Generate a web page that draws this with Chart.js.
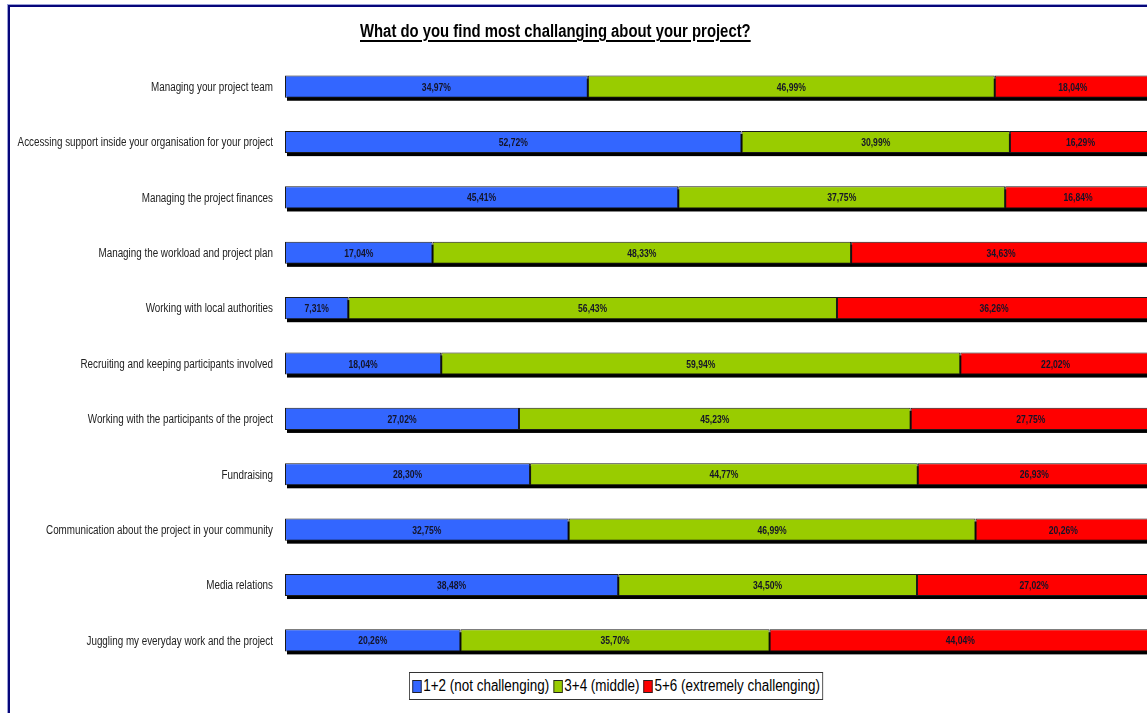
<!DOCTYPE html>
<html>
<head>
<meta charset="utf-8">
<script src="https://cdn.jsdelivr.net/npm/chart.js@4.4.1/dist/chart.umd.min.js"></script>
<style>
  html, body { margin: 0; padding: 0; background: #fff; overflow: hidden; width: 1147px; height: 713px; }
  #frame { position: absolute; left: 8px; top: 5px; width: 1300px; height: 800px; border-left: 2px solid #06067a; border-top: 2px solid #06067a; box-shadow: -1px -1px 0 #9aa0d8; }
  #wrap { position: absolute; left: 0; top: 0; width: 1230px; height: 713px; }
  #title { position: absolute; left: 360px; top: 21px; transform: scaleX(0.826); transform-origin: left top; font-family: "Liberation Sans", Arial, sans-serif; font-weight: bold; font-size: 18px; color: #000; white-space: nowrap; }
  #title span { text-decoration: underline; text-decoration-thickness: 2px; text-underline-offset: 3px; }
  #legend { position: absolute; left: 409px; top: 672px; height: 26px; border: 1px solid #333; background: #fff; display: flex; align-items: center; padding: 0 3px 0 3px; font-family: "Liberation Sans", Arial, sans-serif; font-size: 16px; color: #000; white-space: nowrap; transform: scaleX(0.84); transform-origin: left top; }
  #legend .item { display: inline-flex; align-items: center; margin-right: 5px; }
  #legend .item:last-child { margin-right: 0; }
  #legend .sw { display: inline-block; width: 9px; height: 11px; border: 1px solid #222; margin-right: 2px; }
</style>
</head>
<body>
<div id="frame"></div>
<div id="wrap"><canvas id="c" width="1230" height="713"></canvas></div>
<div id="title"><span>What do you find most challanging about your project?</span></div>
<div id="legend"></div>
<script>
const categories = [
  "Managing your project team",
  "Accessing support inside your organisation for your project",
  "Managing the project finances",
  "Managing the workload and project plan",
  "Working with local authorities",
  "Recruiting and keeping participants involved",
  "Working with the participants of the project",
  "Fundraising",
  "Communication about the project in your community",
  "Media relations",
  "Juggling my everyday work and the project"
];
const seriesNames = ["1+2 (not challenging)", "3+4 (middle)", "5+6 (extremely challenging)"];
const notChallenging = [34.97, 52.72, 45.41, 17.04, 7.31, 18.04, 27.02, 28.30, 32.75, 38.48, 20.26];
const middle = [46.99, 30.99, 37.75, 48.33, 56.43, 59.94, 45.23, 44.77, 46.99, 34.50, 35.70];
const extremelyChallenging = [18.04, 16.29, 16.84, 34.63, 36.26, 22.02, 27.75, 26.93, 20.26, 27.02, 44.04];
const seriesColors = ["#3366FF", "#99CC00", "#FF0000"];

const baseFont = '"Liberation Sans", Arial, sans-serif';
const NARROW = 0.82;

const shadowPlugin = {
  id: 'barShadow',
  beforeDatasetsDraw(chart) {
    const ctx = chart.ctx;
    const first = chart.getDatasetMeta(0).data;
    const last = chart.getDatasetMeta(chart.data.datasets.length - 1).data;
    ctx.save();
    ctx.fillStyle = '#000';
    for (let i = 0; i < first.length; i++) {
      const a = first[i], b = last[i];
      const left = Math.min(a.base, a.x);
      const right = Math.max(b.base, b.x);
      const top = a.y - a.height / 2;
      ctx.fillRect(left + 2, top + 3, right - left, a.height);
    }
    ctx.restore();
  }
};

const labelPlugin = {
  id: 'valueLabels',
  afterDatasetsDraw(chart) {
    const ctx = chart.ctx;
    ctx.save();
    ctx.font = 'bold 11px ' + baseFont;
    ctx.fillStyle = '#141428';
    ctx.textAlign = 'center';
    ctx.textBaseline = 'middle';
    chart.data.datasets.forEach((ds, di) => {
      chart.getDatasetMeta(di).data.forEach((el, i) => {
        const v = ds.data[i];
        const txt = v.toFixed(2).replace('.', ',') + '%';
        ctx.save();
        ctx.translate((el.x + el.base) / 2, el.y + 1);
        ctx.scale(0.78, 1);
        ctx.fillText(txt, 0, 0);
        ctx.restore();
      });
    });
    ctx.restore();
  }
};

const categoryLabelPlugin = {
  id: 'categoryLabels',
  afterDraw(chart) {
    const ctx = chart.ctx;
    const ys = chart.scales.y;
    ctx.save();
    ctx.font = '12px ' + baseFont;
    ctx.fillStyle = '#222';
    ctx.textAlign = 'right';
    ctx.textBaseline = 'middle';
    chart.data.labels.forEach((lab, i) => {
      ctx.save();
      ctx.translate(ys.right - 12, ys.getPixelForTick(i) + 1);
      ctx.scale(NARROW, 1);
      ctx.fillText(lab, 0, 0);
      ctx.restore();
    });
    ctx.restore();
  }
};

const data = {
  labels: categories,
  datasets: [notChallenging, middle, extremelyChallenging].map((vals, k) => ({
    label: seriesNames[k],
    data: vals,
    backgroundColor: seriesColors[k],
    borderColor: '#1a1a1a',
    borderWidth: 1,
    borderSkipped: false,
    barPercentage: 0.4,
    categoryPercentage: 1.0
  }))
};

new Chart(document.getElementById('c'), {
  type: 'bar',
  data,
  options: {
    indexAxis: 'y',
    responsive: false,
    animation: false,
    layout: { padding: { top: 59, bottom: 45, left: 0, right: 79 } },
    plugins: { legend: { display: false }, title: { display: false }, tooltip: { enabled: false } },
    scales: {
      x: { stacked: true, min: 0, max: 100, display: false },
      y: {
        stacked: true,
        grid: { display: false, drawTicks: false },
        border: { display: false },
        afterFit(scale) { scale.width = 285; },
        ticks: { display: false }
      }
    }
  },
  plugins: [shadowPlugin, labelPlugin, categoryLabelPlugin]
});

const legend = document.getElementById('legend');
seriesNames.forEach((n, k) => {
  const it = document.createElement('span');
  it.className = 'item';
  const sw = document.createElement('span');
  sw.className = 'sw';
  sw.style.background = seriesColors[k];
  it.appendChild(sw);
  it.appendChild(document.createTextNode(n));
  legend.appendChild(it);
});
</script>
</body>
</html>
